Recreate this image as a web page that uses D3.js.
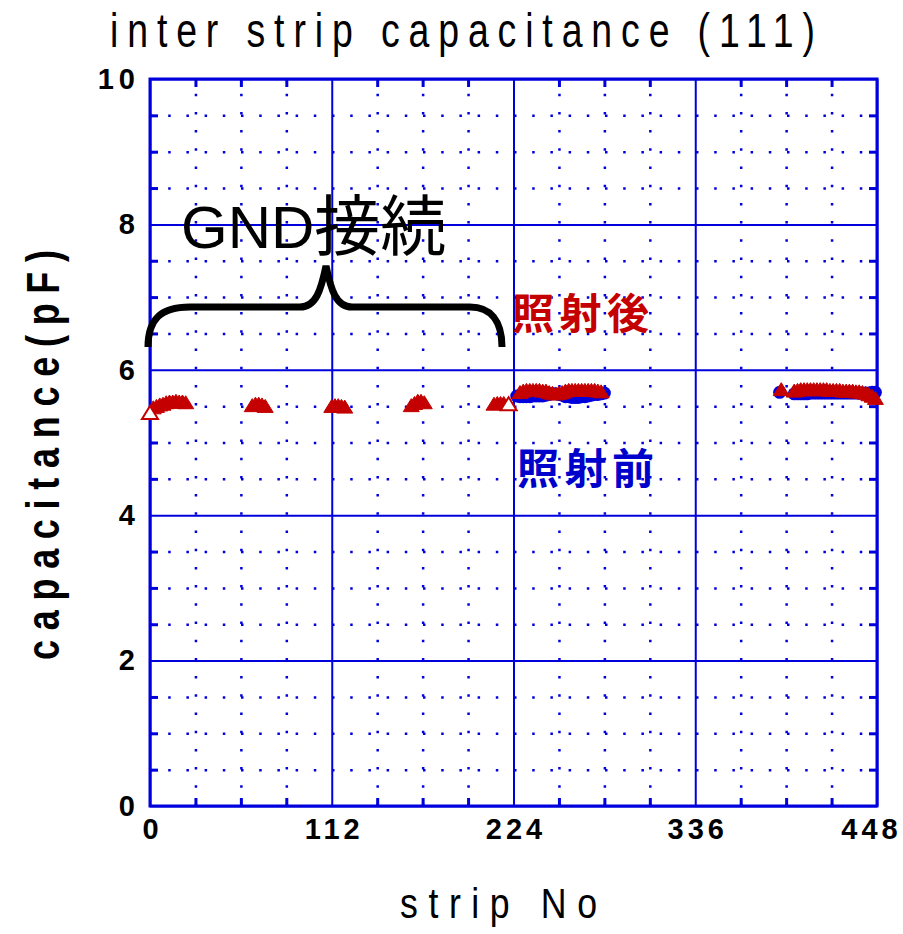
<!DOCTYPE html>
<html>
<head>
<meta charset="utf-8">
<script src="https://cdn.jsdelivr.net/npm/d3@7"></script>
<style>
  body { margin: 0; background: #fff; }
  svg { display: block; }
</style>
</head>
<body>
<svg id="chart"></svg>
<script>
// tick labels
const xTicks = [0, 112, 224, 336, 448];
const yTicks = [0, 2, 4, 6, 8, 10];

// after irradiation (red filled triangles)
const afterStrip = [2, 4, 6, 8, 10, 12, 14, 16, 18, 20, 22,
  63, 65, 67, 69, 71,
  112, 114, 116, 118, 120,
  161, 163, 165, 167, 169,
  212, 214, 216, 218,
  228, 230, 232, 234, 236, 238, 240, 242, 244, 246, 248, 250, 252, 254, 256, 258, 260, 262, 264, 266, 268, 270, 272, 274, 276, 278,
  389,
  397, 399, 401, 403, 405, 407, 409, 411, 413, 415, 417, 419, 421, 423, 425, 427, 429, 431, 433, 435, 437, 439, 441, 443, 445, 447];
const afterValue = [5.47, 5.49, 5.51, 5.52, 5.54, 5.55, 5.55, 5.56, 5.55, 5.55, 5.54,
  5.50, 5.52, 5.52, 5.51, 5.49,
  5.49, 5.50, 5.50, 5.49, 5.48,
  5.50, 5.53, 5.56, 5.56, 5.54,
  5.52, 5.53, 5.53, 5.53,
  5.68, 5.70, 5.71, 5.71, 5.71, 5.71, 5.71, 5.70, 5.70, 5.68, 5.67, 5.66, 5.67, 5.68, 5.70, 5.71, 5.71, 5.71, 5.71, 5.71, 5.71, 5.71, 5.71, 5.71, 5.70, 5.69,
  5.72,
  5.70, 5.71, 5.72, 5.72, 5.72, 5.72, 5.72, 5.72, 5.72, 5.72, 5.72, 5.71, 5.71, 5.71, 5.71, 5.70, 5.70, 5.70, 5.70, 5.69, 5.69, 5.68, 5.67, 5.65, 5.63, 5.60];

// after irradiation, open triangles
const openStrip = [0, 221];
const openValue = [5.40, 5.52];

// before irradiation (blue circles)
const beforeStrip = [226, 228, 230, 232, 234, 236, 238, 240, 242, 244, 246, 248, 250, 252, 254, 256, 258, 260, 262, 264, 266, 268, 270, 272, 274, 276, 278, 280,
  388,
  397, 399, 401, 403, 405, 407, 409, 411, 413, 415, 417, 419, 421, 423, 425, 427, 429, 431, 433, 435, 437, 439, 441, 443, 445, 447];
const beforeValue = [5.64, 5.63, 5.63, 5.63, 5.63, 5.64, 5.64, 5.64, 5.64, 5.65, 5.66, 5.67, 5.67, 5.66, 5.65, 5.63, 5.63, 5.62, 5.62, 5.62, 5.63, 5.63, 5.64, 5.65, 5.66, 5.66, 5.67, 5.68,
  5.69,
  5.67, 5.67, 5.67, 5.67, 5.67, 5.68, 5.68, 5.68, 5.68, 5.68, 5.68, 5.68, 5.68, 5.68, 5.68, 5.68, 5.68, 5.68, 5.68, 5.68, 5.68, 5.68, 5.68, 5.68, 5.69, 5.69];

const W = 903, H = 934;
const margin = { top: 79, right: 26, bottom: 128, left: 150 };
const width = W - margin.left - margin.right;
const height = H - margin.top - margin.bottom;
const BLUE = "#0000dd", RED = "#c40000";

const svg = d3.select("#chart").attr("width", W).attr("height", H);

const g = svg.append("g")
  .attr("transform", "translate(" + margin.left + "," + margin.top + ")");

const x = d3.scaleLinear().domain([0, 448]).range([0, width]);
const y = d3.scaleLinear().domain([0, 10]).range([height, 0]);

const xMinor = d3.range(0, 449, 28).filter(v => v % 112 !== 0);
const yMinor = d3.range(0, 10.01, 0.5).filter(v => v % 2 !== 0);

// dotted minor grid
g.append("g")
  .attr("transform", "translate(0," + height + ")")
  .call(d3.axisBottom(x).tickValues(xMinor).tickSize(-height).tickFormat(""))
  .call(a => a.select(".domain").remove())
  .selectAll("line")
  .attr("stroke", BLUE).attr("stroke-width", 2.5).attr("stroke-dasharray", "2.5,15.7");

g.append("g")
  .call(d3.axisLeft(y).tickValues(yMinor).tickSize(-width).tickFormat(""))
  .call(a => a.select(".domain").remove())
  .selectAll("line")
  .attr("stroke", BLUE).attr("stroke-width", 2.5).attr("stroke-dasharray", "2.5,15.7");

// solid major grid
g.append("g")
  .attr("transform", "translate(0," + height + ")")
  .call(d3.axisBottom(x).tickValues(xTicks).tickSize(-height).tickFormat(""))
  .call(a => a.select(".domain").remove())
  .selectAll("line").attr("stroke", BLUE).attr("stroke-width", 2);

g.append("g")
  .call(d3.axisLeft(y).tickValues(yTicks).tickSize(-width).tickFormat(""))
  .call(a => a.select(".domain").remove())
  .selectAll("line").attr("stroke", BLUE).attr("stroke-width", 2);

// inward ticks on all four sides
const tickLen = 8;
[
  [d3.axisBottom(x), "translate(0," + height + ")", xMinor],
  [d3.axisTop(x), "translate(0,0)", xMinor],
  [d3.axisLeft(y), "translate(0,0)", yMinor],
  [d3.axisRight(y), "translate(" + width + ",0)", yMinor]
].forEach(([ax, tr, vals]) => {
  g.append("g").attr("transform", tr)
    .call(ax.tickValues(vals).tickSize(-tickLen).tickFormat(""))
    .call(a => a.select(".domain").remove())
    .selectAll("line").attr("stroke", BLUE).attr("stroke-width", 3);
});

// frame
g.append("rect")
  .attr("width", width).attr("height", height)
  .attr("fill", "none").attr("stroke", BLUE).attr("stroke-width", 3);

// tick labels
const xAxis = g.append("g")
  .attr("transform", "translate(0," + height + ")")
  .call(d3.axisBottom(x).tickValues(xTicks).tickSize(0));
xAxis.select(".domain").remove();
xAxis.selectAll("text")
  .attr("y", 33).attr("dy", 0)
  .attr("x", d => d === 448 ? -6 : 2)
  .attr("font-family", "'Liberation Sans', Arial, sans-serif")
  .attr("font-weight", "bold").attr("font-size", 29)
  .attr("letter-spacing", 4).attr("fill", "#000");

const yAxis = g.append("g")
  .call(d3.axisLeft(y).tickValues(yTicks).tickSize(0).tickPadding(10));
yAxis.select(".domain").remove();
yAxis.selectAll("text")
  .attr("font-family", "'Liberation Sans', Arial, sans-serif")
  .attr("font-weight", "bold").attr("font-size", 29)
  .attr("letter-spacing", 5).attr("fill", "#000");

// markers: blue circles under red triangles
g.selectAll(".before")
  .data(beforeStrip.map((s, i) => [s, beforeValue[i]]))
  .enter().append("circle")
  .attr("class", "before")
  .attr("cx", d => x(d[0])).attr("cy", d => y(d[1]))
  .attr("r", 6.5).attr("fill", BLUE);

const tri = (cx, cy) => "M" + cx + "," + (cy - 7.5) + "L" + (cx + 8) + "," + (cy + 5.5) + "L" + (cx - 8) + "," + (cy + 5.5) + "Z";

g.selectAll(".after")
  .data(afterStrip.map((s, i) => [s, afterValue[i]]))
  .enter().append("path")
  .attr("class", "after")
  .attr("d", d => tri(x(d[0]), y(d[1])))
  .attr("fill", RED).attr("stroke", RED).attr("stroke-width", 1);

g.selectAll(".open")
  .data(openStrip.map((s, i) => [s, openValue[i]]))
  .enter().append("path")
  .attr("class", "open")
  .attr("d", d => tri(x(d[0]), y(d[1])))
  .attr("fill", "#fff").attr("stroke", RED).attr("stroke-width", 2);

// titles (narrowed glyphs to mimic a condensed face)
svg.append("text")
  .attr("transform", "translate(110,47) scale(0.78,1)")
  .attr("textLength", 705 / 0.78).attr("lengthAdjust", "spacing")
  .attr("font-family", "'Liberation Sans', sans-serif")
  .attr("font-size", 48).attr("fill", "#000")
  .text("inter strip capacitance (111)");

svg.append("text")
  .attr("transform", "translate(400,918) scale(0.85,1)")
  .attr("textLength", 197 / 0.85).attr("lengthAdjust", "spacing")
  .attr("font-family", "'Liberation Sans', sans-serif")
  .attr("font-size", 42).attr("fill", "#000")
  .text("strip No");

svg.append("text")
  .attr("transform", "translate(59,660) rotate(-90) scale(0.78,1)")
  .attr("textLength", 410 / 0.78).attr("lengthAdjust", "spacing")
  .attr("font-family", "'Liberation Sans', sans-serif")
  .attr("font-weight", "bold")
  .attr("font-size", 46).attr("fill", "#000")
  .text("capacitance(pF)");

// annotations
const gnd = svg.append("text")
  .attr("x", 181).attr("y", 248)
  .attr("font-family", "'Liberation Sans', 'Noto Sans CJK JP', sans-serif")
  .attr("font-size", 60).attr("fill", "#000");
gnd.append("tspan").text("GND");
gnd.append("tspan").attr("font-family", "'Noto Sans CJK JP', sans-serif").attr("font-size", 66).attr("dy", 2).text("接続");

svg.append("path")
  .attr("d", "M148,347 C148,320 160,307 190,307 L300,307 C316,307 321,290 326,266 C331,290 336,307 352,307 L470,307 C490,307 502,320 502,347")
  .attr("fill", "none").attr("stroke", "#000").attr("stroke-width", 7);

svg.append("text")
  .attr("x", 512).attr("y", 329)
  .attr("textLength", 137).attr("lengthAdjust", "spacing")
  .attr("font-family", "'Noto Sans CJK JP', sans-serif")
  .attr("font-weight", "bold")
  .attr("font-size", 42).attr("fill", RED)
  .text("照射後");

svg.append("text")
  .attr("x", 517).attr("y", 484)
  .attr("textLength", 137).attr("lengthAdjust", "spacing")
  .attr("font-family", "'Noto Sans CJK JP', sans-serif")
  .attr("font-weight", "bold")
  .attr("font-size", 42).attr("fill", "#0000cc")
  .text("照射前");
</script>
</body>
</html>
